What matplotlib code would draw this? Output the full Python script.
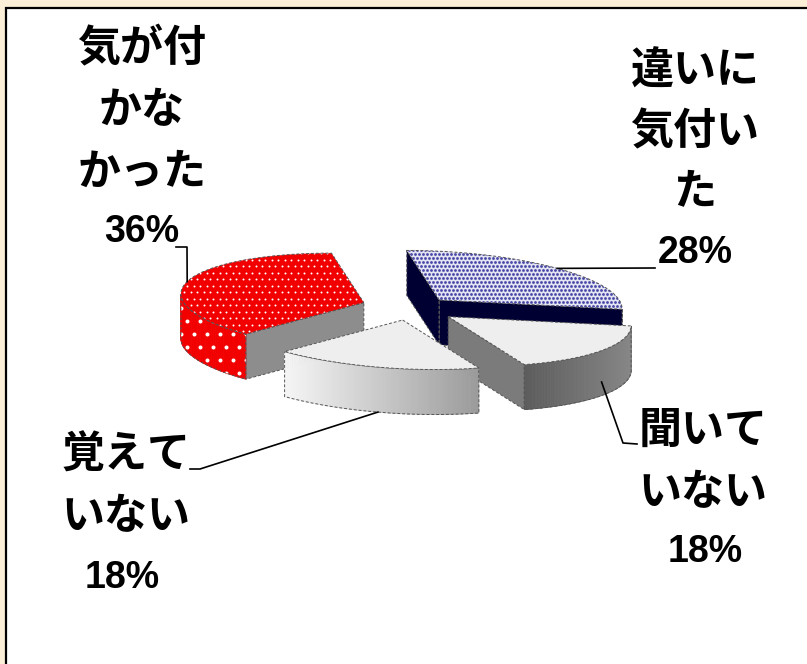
import numpy as np
import matplotlib
matplotlib.use('Agg')
import matplotlib.pyplot as plt
from matplotlib.patches import Polygon, Rectangle

# ---------------- data ----------------
categories = ['違いに気付いた', '聞いていない', '覚えていない', '気が付かなかった']
values = [28, 18, 18, 36]
label_lines = [['違いに', '気付い', 'た'], ['聞いて', 'いない'], ['覚えて', 'いない'], ['気が付', 'かな', 'かった']]
pct_labels = ['28%', '18%', '18%', '36%']

# ---------------- layout / style ----------------
W, H = 807, 664
CX, CY = 409, 308          # unexploded pie centre (px)
R = 180.0                  # horizontal radius (px)
T = 0.275                  # vertical squash
K = -0.18                  # shear (fake perspective)
DEPTH = 45.0               # wall height (px)
EXPL = 46.0 / R            # explosion distance (model units)

styles = [
    dict(top='#e4e4f2', dots=('#4848a8', 4.0, 2.8), side='#000033', wall=('#000033', '#000033'), wdots=None),
    dict(top='#eeeeee', dots=None, side='#7b7b7b', wall=('#5c5c5c', '#878787'), wdots=None),
    dict(top='#eeeeee', dots=None, side='#b0b0b0', wall=('#f6f6f6', '#9a9a9a'), wdots=None),
    dict(top='#f20000', dots=('white', 6.5, 2.0), side='#8d8d8d', wall=('#f20000', '#f20000'), wdots=('white', 13.0, 4.0)),
]
label_pos = [  # (x centre, [line y centres], pct y)
    (695, [71, 131, 192], 253),
    (703, [430, 492], 552),
    (126, [455, 516], 578),
    (142, [48, 110, 172], 232),
]
pct_x = [695, 705, 122, 142]
leader_label_pts = [
    [(655, 268)],
    [(637, 444), (623, 443)],
    [(190, 469), (200, 469)],
    [(176, 247), (187, 247)],
]
leader_z = [1.0, 0.3, 0.0, 1.0]

fig = plt.figure(figsize=(W / 100, H / 100), dpi=100)
fig.patch.set_facecolor('#fcefd8')
ax = fig.add_axes([0, 0, 1, 1])
ax.set_xlim(0, W)
ax.set_ylim(H, 0)
ax.axis('off')

ax.add_patch(Rectangle((6, 8), 1000, 1000, facecolor='white', edgecolor='black', lw=1.6, zorder=0))


def P(x, y, z, ox, oy):
    X = CX + R * ((x + ox) + K * (y + oy))
    Y = CY - R * T * (y + oy) + (1 - z) * DEPTH
    return X, Y


def visible(nang):
    return K * np.cos(nang) - np.sin(nang) > 0


def add_dots(poly, spec, z):
    if spec is None:
        return
    col, pitch, d = spec
    verts = poly.get_xy()
    x0, y0 = verts.min(axis=0) - pitch
    x1, y1 = verts.max(axis=0) + pitch
    ys = np.arange(y0, y1, pitch)
    xs_all, ys_all = [], []
    for j, yy in enumerate(ys):
        xs = np.arange(x0 + (pitch / 2 if j % 2 else 0), x1, pitch)
        xs_all.extend(xs)
        ys_all.extend([yy] * len(xs))
    sc = ax.scatter(xs_all, ys_all, s=(0.72 * d) ** 2, c=col, linewidths=0, zorder=z)
    sc.set_clip_path(poly)


def outline(pts, z):
    pts = np.vstack([pts, pts[:1]])
    ax.plot(pts[:, 0], pts[:, 1], color='#555555', lw=0.7, ls=(0, (3, 2)), zorder=z)


total = float(sum(values))
spans = []
start = 90.0
for v in values:
    sp = v / total * 360.0
    spans.append((start, start - sp))
    start -= sp
mids = [np.radians((a + b) / 2) for a, b in spans]
order = sorted(range(len(values)), key=lambda i: -np.sin(mids[i]))

anchors = {}
for rank, i in enumerate(order):
    zb = 10 + rank * 10
    st = styles[i]
    a0, a1 = np.radians(spans[i][0]), np.radians(spans[i][1])
    ox, oy = EXPL * np.cos(mids[i]), EXPL * np.sin(mids[i])
    th = np.linspace(a0, a1, 120)

    # cut faces
    for ang, nang in ((a0, a0 + np.pi / 2), (a1, a1 - np.pi / 2)):
        if visible(nang):
            pts = np.array([P(0, 0, 1, ox, oy), P(np.cos(ang), np.sin(ang), 1, ox, oy),
                            P(np.cos(ang), np.sin(ang), 0, ox, oy), P(0, 0, 0, ox, oy)])
            ax.add_patch(Polygon(pts, closed=True, facecolor=st['side'], edgecolor='none', zorder=zb))
            outline(pts, zb + 1)

    # outer wall
    vis = visible(th)
    if vis.any():
        tv = th[vis]
        top = np.array([P(np.cos(t), np.sin(t), 1, ox, oy) for t in tv])
        bot = np.array([P(np.cos(t), np.sin(t), 0, ox, oy) for t in tv])
        c0 = np.array(matplotlib.colors.to_rgb(st['wall'][0]))
        c1 = np.array(matplotlib.colors.to_rgb(st['wall'][1]))
        xmin, xmax = top[:, 0].min(), top[:, 0].max()
        for j in range(len(tv) - 1):
            q = np.array([top[j], top[j + 1], bot[j + 1], bot[j]])
            f = (q[:, 0].mean() - xmin) / max(xmax - xmin, 1e-6)
            col = c0 + (c1 - c0) * f
            ax.add_patch(Polygon(q, closed=True, facecolor=col, edgecolor=col, lw=0.6, zorder=zb + 2))
        wall_poly = Polygon(np.vstack([top, bot[::-1]]), closed=True, facecolor='none',
                            edgecolor='none', zorder=zb + 2)
        ax.add_patch(wall_poly)
        add_dots(wall_poly, st['wdots'], zb + 3)
        outline(np.vstack([top, bot[::-1]]), zb + 4)

    # top face
    tpts = np.vstack([[P(0, 0, 1, ox, oy)], [P(np.cos(t), np.sin(t), 1, ox, oy) for t in th]])
    tp = Polygon(tpts, closed=True, facecolor=st['top'], edgecolor='none', zorder=zb + 5)
    ax.add_patch(tp)
    add_dots(tp, st['dots'], zb + 6)
    outline(tpts, zb + 7)

    m = mids[i]
    anchors[i] = P(np.cos(m), np.sin(m), leader_z[i], ox, oy)

# leader lines
for i in range(len(values)):
    pts = np.array(leader_label_pts[i] + [anchors[i]])
    ax.plot(pts[:, 0], pts[:, 1], color='black', lw=1.2, zorder=100)

# labels
cjk = ['Noto Sans CJK JP', 'DejaVu Sans']
num = ['Liberation Sans', 'DejaVu Sans']
for i in range(len(values)):
    x, ys, py = label_pos[i]
    for line, y in zip(label_lines[i], ys):
        ax.text(x, y, line, family=cjk, fontsize=31, fontweight='bold', ha='center', va='center', zorder=110)
    ax.text(pct_x[i], py, pct_labels[i], family=num, fontsize=27, fontweight='bold',
            ha='center', va='center', zorder=110)

fig.savefig('out.png', dpi=100, facecolor=fig.get_facecolor())
